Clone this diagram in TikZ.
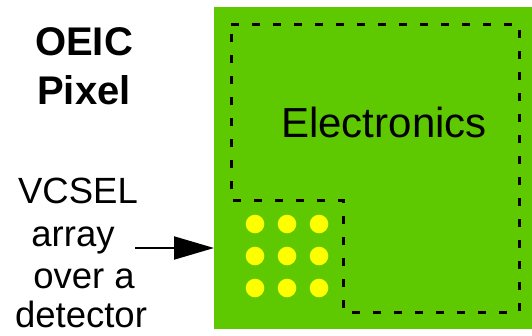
\documentclass[tikz,border=0pt]{standalone}
\usepackage{fontspec}
\setmainfont{Liberation Sans}
\usetikzlibrary{arrows.meta}
\definecolor{chipgreen}{RGB}{94,200,0}
\definecolor{vcsel}{RGB}{255,255,0}
\begin{document}
\begin{tikzpicture}[x=1pt,y=-1pt,
  lbl/.style={anchor=base,inner sep=0pt,font=\fontsize{36.5}{44}\selectfont},
  ttl/.style={anchor=base,inner sep=0pt,font=\fontsize{40}{48}\selectfont\bfseries},
  dot/.style={fill=vcsel,draw=none},
  region/.style={draw=black,line width=3pt,dash pattern=on 8pt off 13pt}]
\useasboundingbox (0,0) rectangle (532,335);
\node[fill=chipgreen,draw=none,minimum width=318pt,minimum height=322pt,inner sep=0pt,anchor=north west] (pix) at (214,7) {};
\draw[region] (231,24) -- (519,24) -- (519,312) -- (343,312) -- (343,200) -- (231,200) -- cycle;
\node[anchor=base,inner sep=0pt,font=\fontsize{42}{48}\selectfont] (elec) at (384,137) {Electronics};
\foreach \i/\x in {1/255,2/287,3/319}{
  \foreach \j/\y in {1/224,2/256,3/288}{
    \fill[dot] (\x,\y) circle (9.3pt);
  }
}
\node[ttl] (t1) at (84,55) {OEIC};
\node[ttl] (t2) at (84,104) {Pixel};
\node[lbl] (l1) at (78,203) {VCSEL};
\node[lbl] (l2) at (73,246) {array};
\node[lbl] (l3) at (84,288) {over a};
\node[lbl] (l4) at (81,327) {detector};
\coordinate (as) at (135,248);
\draw[line width=2pt,-{Triangle[length=40pt,width=23pt]}] (as) -- (as -| pix.west);
\end{tikzpicture}
\end{document}
